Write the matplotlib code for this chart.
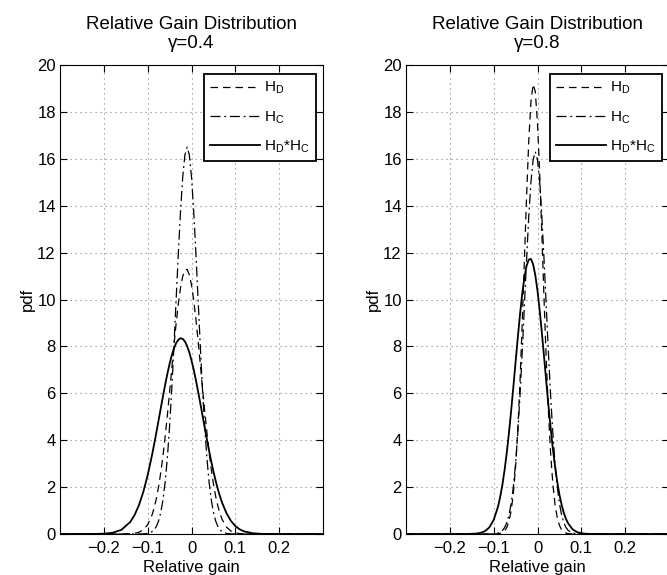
import matplotlib
matplotlib.use("Agg")
import matplotlib.pyplot as plt

plt.rcParams['font.family'] = ['Liberation Sans', 'DejaVu Sans']
plt.rcParams['mathtext.fontset'] = 'custom'
plt.rcParams['mathtext.rm'] = 'Liberation Sans'
plt.rcParams['mathtext.it'] = 'Liberation Sans'
plt.rcParams['axes.unicode_minus'] = True

# ---- data ----
gain = [-0.30, -0.25, -0.22, -0.20, -0.18, -0.16, -0.14, -0.13, -0.12, -0.11, -0.10,
        -0.09, -0.085, -0.08, -0.075, -0.07, -0.065, -0.06, -0.055, -0.05, -0.045,
        -0.04, -0.035, -0.03, -0.025, -0.02, -0.015, -0.01, -0.005, 0.0, 0.005,
        0.01, 0.015, 0.02, 0.025, 0.03, 0.035, 0.04, 0.045, 0.05, 0.055,
        0.06, 0.065, 0.07,
        0.08, 0.09, 0.10, 0.11, 0.12, 0.14, 0.16, 0.20, 0.30]

gamma_labels = ['\u03b3=0.4', '\u03b3=0.8']
series_labels = ['H$_D$', 'H$_C$', 'H$_D$*H$_C$']

# gamma = 0.4
hd_04 = [0, 0, 0, 0, 0, 0.001, 0.009, 0.027, 0.073, 0.178, 0.397,
         0.814, 1.127, 1.529, 2.029, 2.637, 3.353, 4.170, 5.077, 6.049, 7.053,
         8.047, 8.991, 9.824, 10.50, 10.99, 11.26, 11.28, 11.06, 10.62, 9.97,
         9.167, 8.246, 7.258, 6.252, 5.271, 4.348, 3.511, 2.774, 2.142, 1.620,
         1.199, 0.869, 0.616,
         0.290, 0.125, 0.050, 0.018, 0.006, 0, 0, 0, 0]
hc_04 = [0, 0, 0, 0, 0, 0, 0, 0, 0.001, 0.006, 0.025,
         0.099, 0.183, 0.327, 0.561, 0.926, 1.467, 2.233, 3.267, 4.587, 6.188,
         8.036, 10.01, 11.98, 13.78, 15.23, 16.17, 16.5, 16.17, 15.23, 13.78,
         11.98, 10.01, 8.04, 6.19, 4.59, 3.27, 2.23, 1.47, 0.93, 0.56,
         0.33, 0.18, 0.10,
         0.025, 0.006, 0.001, 0, 0, 0, 0, 0, 0]
hdc_04 = [0, 0, 0.003, 0.013, 0.053, 0.177, 0.507, 0.804, 1.225, 1.790, 2.508,
          3.371, 3.847, 4.346, 4.857, 5.373, 5.883, 6.374, 6.836, 7.254, 7.617,
          7.917, 8.142, 8.287, 8.35, 8.32, 8.21, 8.016, 7.745, 7.405, 7.008,
          6.563, 6.083, 5.580, 5.065, 4.550, 4.045, 3.559, 3.099, 2.670, 2.278,
          1.922, 1.606, 1.327,
          0.879, 0.557, 0.339, 0.198, 0.111, 0.031, 0.007, 0, 0]

# gamma = 0.8
hd_08 = [0, 0, 0, 0, 0, 0, 0, 0, 0, 0, 0,
         0.011, 0.028, 0.063, 0.137, 0.283, 0.549, 1.005, 1.745, 2.857, 4.420,
         6.461, 8.922, 11.64, 14.36, 16.74, 18.43, 19.18, 18.86, 17.51, 15.38,
         12.75, 9.99, 7.40, 5.18, 3.42, 2.14, 1.26, 0.70, 0.37, 0.18,
         0.087, 0.039, 0.016,
         0.002, 0, 0, 0, 0, 0, 0, 0, 0]
hc_08 = [0, 0, 0, 0, 0, 0, 0, 0, 0, 0, 0.009,
         0.040, 0.079, 0.150, 0.275, 0.483, 0.812, 1.312, 2.031, 3.017, 4.298,
         5.871, 7.707, 9.689, 11.68, 13.52, 15.00, 15.96, 16.3, 15.96, 15.00,
         13.52, 11.68, 9.69, 7.71, 5.87, 4.30, 3.02, 2.03, 1.31, 0.81,
         0.48, 0.28, 0.15,
         0.040, 0.009, 0, 0, 0, 0, 0, 0, 0]
hdc_08 = [0, 0, 0, 0, 0, 0.002, 0.017, 0.047, 0.120, 0.279, 0.597,
          1.171, 1.590, 2.110, 2.742, 3.486, 4.336, 5.279, 6.290, 7.334, 8.367,
          9.349, 10.22, 10.92, 11.43, 11.70, 11.73, 11.50, 11.04, 10.37, 9.53,
          8.57, 7.55, 6.50, 5.48, 4.52, 3.65, 2.88, 2.23, 1.68, 1.25,
          0.90, 0.64, 0.45,
          0.20, 0.083, 0.032, 0.011, 0.003, 0, 0, 0, 0]

panels = [(hd_04, hc_04, hdc_04), (hd_08, hc_08, hdc_08)]
xticks = [-0.2, -0.1, 0, 0.1, 0.2]
xticklabels = ['\u22120.2', '\u22120.1', '0', '0.1', '0.2']
yticks = list(range(0, 21, 2))

W, H = 667, 575
fig = plt.figure(figsize=(W / 100, H / 100), dpi=100)
positions = [(60 / W, 41 / H, 263 / W, 469 / H),
             (406 / W, 41 / H, 263 / W, 469 / H)]

fs = 12
for i, (pos, (hd, hc, hdc)) in enumerate(zip(positions, panels)):
    ax = fig.add_axes(pos)
    l1, = ax.plot(gain, hd, color='black', lw=0.9, linestyle=(0, (6, 4)))
    l2, = ax.plot(gain, hc, color='black', lw=0.9, linestyle=(0, (8, 3, 1.5, 3)))
    l3, = ax.plot(gain, hdc, color='black', lw=1.3, linestyle='-')
    ax.set_xlim(-0.3, 0.3)
    ax.set_ylim(0, 20)
    ax.set_xticks(xticks)
    ax.set_xticklabels(xticklabels)
    ax.set_yticks(yticks)
    ax.tick_params(direction='in', top=True, right=True, length=5, width=0.8,
                   labelsize=fs, pad=3)
    ax.tick_params(axis='x', pad=5)
    ax.grid(True, color='#808080', linestyle=(0, (1, 3.5)), lw=0.8)
    for s in ax.spines.values():
        s.set_linewidth(0.8)
    ax.set_title('Relative Gain Distribution\n' + gamma_labels[i], fontsize=13.5,
                 pad=12, linespacing=1.15)
    ax.set_xlabel('Relative gain', fontsize=fs, labelpad=3)
    ax.set_ylabel('pdf', fontsize=fs, labelpad=2)
    leg = ax.legend([l1, l2, l3], series_labels, loc='upper right',
                    bbox_to_anchor=(0.973, 0.981), borderaxespad=0,
                    fontsize=11, handlelength=3.3, handletextpad=0.25,
                    labelspacing=0.85, borderpad=0.4, fancybox=False,
                    framealpha=1, edgecolor='black')
    leg.get_frame().set_linewidth(1.3)

fig.savefig('out.png', dpi=100)
